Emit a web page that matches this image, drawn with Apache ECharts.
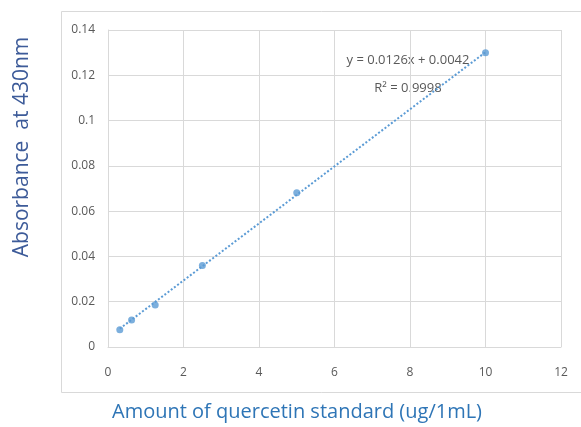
<!DOCTYPE html>
<html>
<head>
<meta charset="utf-8">
<script src="https://cdn.jsdelivr.net/npm/echarts@6/dist/echarts.min.js"></script>
<style>html,body{margin:0;padding:0;background:#fff;}#c{width:581px;height:427px;}</style>
</head>
<body>
<div id="c"></div>
<script>
var concentrations = [0.3125, 0.625, 1.25, 2.5, 5, 10];
var absorbances = [0.0076, 0.0119, 0.0186, 0.0360, 0.0681, 0.1300];
var trendX = [0.3125, 10];
var trendY = [0.0081, 0.1302];
var equationText = 'y = 0.0126x + 0.0042';
var r2Text = 'R² = 0.9998';
var xTitle = 'Amount of quercetin standard (ug/1mL)';
var yTitle = 'Absorbance  at 430nm';

var chart = echarts.init(document.getElementById('c'));
var font = 'Open Sans, Noto Sans, sans-serif';
chart.setOption({
  animation: false,
  backgroundColor: '#fff',
  grid: { left: 108, right: 20, top: 30, bottom: 80 },
  xAxis: {
    type: 'value', min: 0, max: 12, interval: 2,
    axisLine: { show: true, lineStyle: { color: '#d9d9d9' } },
    axisTick: { show: false },
    splitLine: { show: true, lineStyle: { color: '#d9d9d9' } },
    axisLabel: { color: '#595959', fontSize: 12, margin: 20, fontFamily: font }
  },
  yAxis: {
    type: 'value', min: 0, max: 0.14, interval: 0.02,
    axisLine: { show: true, lineStyle: { color: '#d9d9d9' } },
    axisTick: { show: false },
    splitLine: { show: true, lineStyle: { color: '#d9d9d9' } },
    axisLabel: { color: '#595959', fontSize: 12, margin: 13, fontFamily: font }
  },
  series: [
    {
      type: 'line',
      data: trendX.map(function (x, i) { return [x, trendY[i]]; }),
      symbol: 'none',
      lineStyle: { color: '#5b9bd5', width: 2, type: [2, 2] },
      z: 2
    },
    {
      type: 'scatter',
      data: concentrations.map(function (x, i) { return [x, absorbances[i]]; }),
      symbolSize: 7,
      itemStyle: { color: '#5b9bd5' },
      z: 3
    }
  ],
  graphic: [
    { type: 'rect', shape: { x: 61.5, y: 11.5, width: 530, height: 381 }, style: { fill: 'none', stroke: '#d9d9d9', lineWidth: 1 }, z: -1 },
    { type: 'text', x: 408, y: 60, style: { text: equationText, fill: '#595959', font: '13px ' + font, textAlign: 'center', textVerticalAlign: 'middle' } },
    { type: 'text', x: 408, y: 88, style: { text: r2Text, fill: '#595959', font: '13px ' + font, textAlign: 'center', textVerticalAlign: 'middle' } },
    { type: 'text', x: 297, y: 412, style: { text: xTitle, fill: '#2e75b6', font: '20px ' + font, textAlign: 'center', textVerticalAlign: 'middle' } },
    { type: 'text', x: 22, y: 147, rotation: Math.PI / 2, style: { text: yTitle, fill: '#3d5b99', font: '21px ' + font, textAlign: 'center', textVerticalAlign: 'middle' } }
  ]
});
</script>
</body>
</html>
